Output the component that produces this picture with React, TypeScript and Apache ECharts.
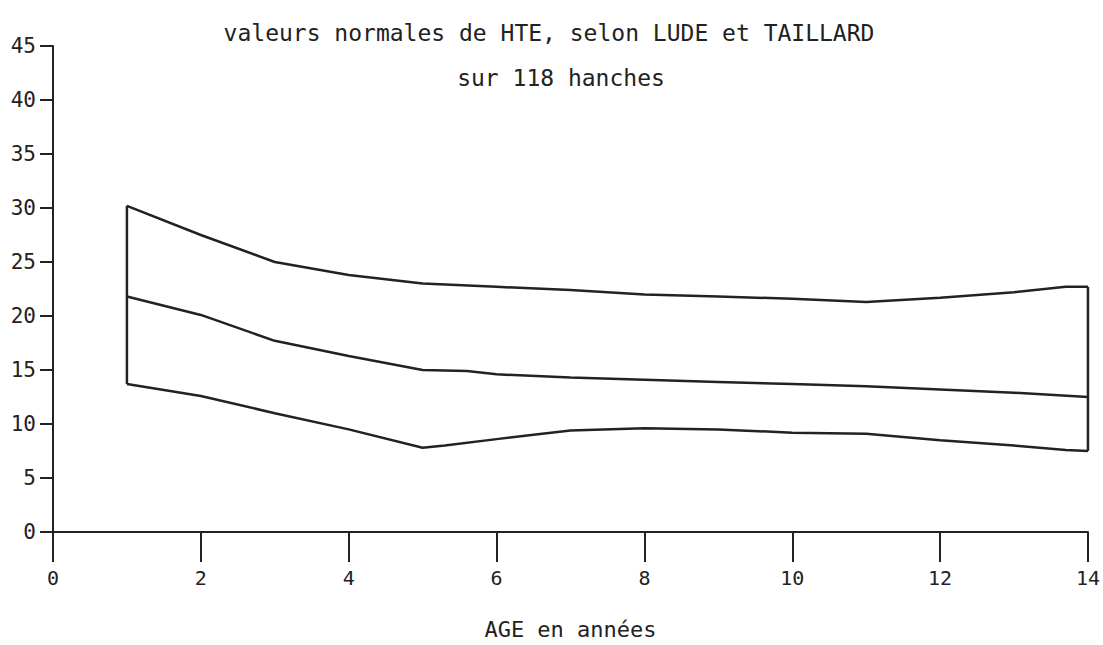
import React, { useEffect, useRef } from "react";
import * as echarts from "echarts";

const titleLine1 = "valeurs normales de HTE, selon LUDE et TAILLARD";
const titleLine2 = "sur 118 hanches";
const xAxisName = "AGE en années";

const upperX = [1, 2, 3, 4, 5, 6, 7, 8, 9, 10, 11, 12, 13, 13.7, 14];
const upperY = [30.2, 27.5, 25.0, 23.8, 23.0, 22.7, 22.4, 22.0, 21.8, 21.6, 21.3, 21.7, 22.2, 22.7, 22.7];

const middleX = [1, 2, 3, 4, 5, 5.6, 6, 7, 8, 9, 10, 11, 12, 13, 14];
const middleY = [21.8, 20.1, 17.7, 16.3, 15.0, 14.9, 14.6, 14.3, 14.1, 13.9, 13.7, 13.5, 13.2, 12.9, 12.5];

const lowerX = [1, 2, 3, 4, 5, 5.3, 6, 6.5, 7, 8, 9, 10, 11, 12, 13, 13.7, 14];
const lowerY = [13.7, 12.6, 11.0, 9.5, 7.8, 8.0, 8.6, 9.0, 9.4, 9.6, 9.5, 9.2, 9.1, 8.5, 8.0, 7.6, 7.5];

const FONT = "'DejaVu Sans Mono', 'Liberation Mono', monospace";
const INK = "#222";

function pairs(xs: number[], ys: number[]) {
  return xs.map((x, i) => [x, ys[i]]);
}

export default function App() {
  const ref = useRef<HTMLDivElement>(null);

  useEffect(() => {
    if (!ref.current) return;
    const chart = echarts.init(ref.current, undefined, { renderer: "svg" });
    const lineStyle = { color: INK, width: 2.5 };
    const leftEdge = [
      [lowerX[0], lowerY[0]],
      [upperX[0], upperY[0]],
    ];
    const rightEdge = [
      [upperX[upperX.length - 1], upperY[upperY.length - 1]],
      [lowerX[lowerX.length - 1], lowerY[lowerY.length - 1]],
    ];
    chart.setOption({
      animation: false,
      backgroundColor: "#fff",
      title: [
        {
          text: titleLine1,
          left: 544,
          textAlign: "center",
          top: 16,
          textStyle: { fontFamily: FONT, fontSize: 23, fontWeight: "normal", color: INK },
        },
        {
          text: titleLine2,
          left: 556,
          textAlign: "center",
          top: 61,
          textStyle: { fontFamily: FONT, fontSize: 23, fontWeight: "normal", color: INK },
        },
      ],
      grid: { left: 53, right: 11, top: 46, bottom: 109, containLabel: false },
      xAxis: {
        type: "value",
        min: 0,
        max: 14,
        interval: 2,
        name: xAxisName,
        nameLocation: "middle",
        nameGap: 86,
        nameTextStyle: { fontFamily: FONT, fontSize: 22, color: INK },
        axisLine: { show: true, lineStyle: { color: INK, width: 2 } },
        axisTick: { show: true, length: 30, inside: false, lineStyle: { color: INK, width: 2 } },
        axisLabel: { fontFamily: FONT, fontSize: 20, color: INK, margin: 36 },
        splitLine: { show: false },
      },
      yAxis: {
        type: "value",
        min: 0,
        max: 45,
        interval: 5,
        axisLine: { show: true, lineStyle: { color: INK, width: 2 } },
        axisTick: { show: true, length: 13, lineStyle: { color: INK, width: 2 } },
        axisLabel: { fontFamily: FONT, fontSize: 21, color: INK, margin: 17 },
        splitLine: { show: false },
      },
      series: [
        { type: "line", data: pairs(upperX, upperY), showSymbol: false, lineStyle },
        { type: "line", data: pairs(middleX, middleY), showSymbol: false, lineStyle },
        { type: "line", data: pairs(lowerX, lowerY), showSymbol: false, lineStyle },
        { type: "line", data: leftEdge, showSymbol: false, lineStyle },
        { type: "line", data: rightEdge, showSymbol: false, lineStyle },
      ],
    });
    return () => chart.dispose();
  }, []);

  return (
    <div
      ref={ref}
      style={{ position: "absolute", left: 0, top: 0, width: 1103, height: 645 }}
    />
  );
}
